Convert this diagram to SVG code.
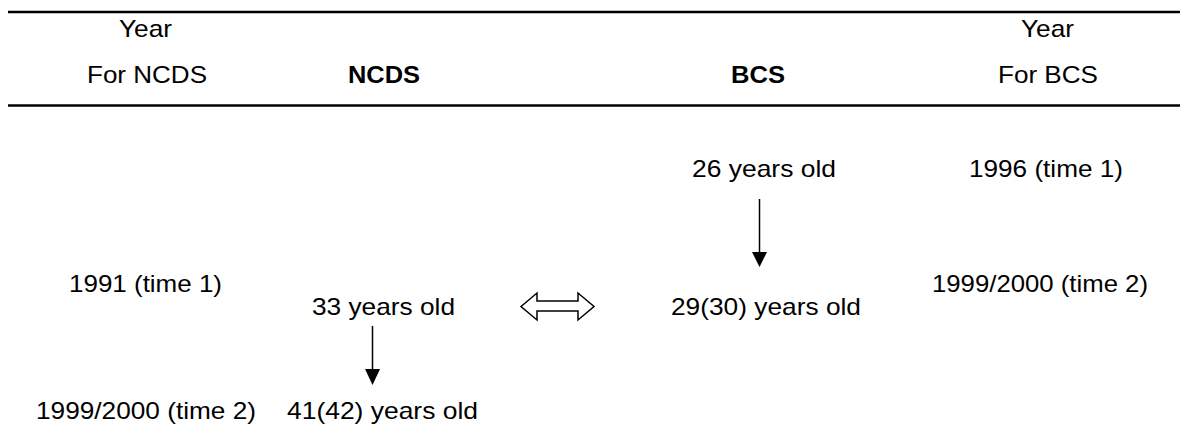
<svg xmlns="http://www.w3.org/2000/svg" width="1182" height="446" viewBox="0 0 1182 446">
<style>
text{font-family:"Liberation Sans",Arial,sans-serif;font-size:24px;fill:#000}
.b{font-weight:bold}
.rule{stroke:#000;stroke-width:2.5}
.conn line{stroke:#000;stroke-width:1.5}
</style>
<rect width="1182" height="446" fill="#fff"/>
<g id="rules">
<line class="rule" x1="8" y1="12" x2="1180" y2="12"/>
<line class="rule" x1="8" y1="105.5" x2="1180" y2="105.5"/>
</g>
<g id="header">
<text x="119" y="37" textLength="53" lengthAdjust="spacingAndGlyphs">Year</text>
<text x="87" y="83" textLength="120" lengthAdjust="spacingAndGlyphs">For NCDS</text>
<text class="b" x="348" y="83" textLength="72" lengthAdjust="spacingAndGlyphs">NCDS</text>
<text class="b" x="731" y="83" textLength="54" lengthAdjust="spacingAndGlyphs">BCS</text>
<text x="1021" y="37" textLength="53" lengthAdjust="spacingAndGlyphs">Year</text>
<text x="998" y="83" textLength="100" lengthAdjust="spacingAndGlyphs">For BCS</text>
</g>
<g id="bcs26"><text x="692" y="177" textLength="144" lengthAdjust="spacingAndGlyphs">26 years old</text></g>
<g id="y1996"><text x="969" y="177" textLength="154" lengthAdjust="spacingAndGlyphs">1996 (time 1)</text></g>
<g id="y1991"><text x="69" y="292" textLength="153" lengthAdjust="spacingAndGlyphs">1991 (time 1)</text></g>
<g id="y1999bcs"><text x="932" y="292" textLength="216" lengthAdjust="spacingAndGlyphs">1999/2000 (time 2)</text></g>
<g id="ncds33"><text x="312" y="315" textLength="143" lengthAdjust="spacingAndGlyphs">33 years old</text></g>
<g id="bcs29"><text x="671" y="315" textLength="190" lengthAdjust="spacingAndGlyphs">29(30) years old</text></g>
<g id="y1999ncds"><text x="36" y="419" textLength="220" lengthAdjust="spacingAndGlyphs">1999/2000 (time 2)</text></g>
<g id="ncds41"><text x="287" y="419" textLength="191" lengthAdjust="spacingAndGlyphs">41(42) years old</text></g>
<g id="connectors" class="conn">
<line x1="372.5" y1="326" x2="372.5" y2="371"/>
<polygon points="365,369 380,369 372.5,385" fill="#000"/>
<line x1="759.5" y1="199" x2="759.5" y2="254"/>
<polygon points="752,252 767,252 759.5,267" fill="#000"/>
<polygon points="521,306.5 537,293 537,301 578,301 578,293 594,306.5 578,320 578,311 537,311 537,320" fill="#fff" stroke="#000" stroke-width="1.5" stroke-linejoin="miter"/>
</g>
</svg>
